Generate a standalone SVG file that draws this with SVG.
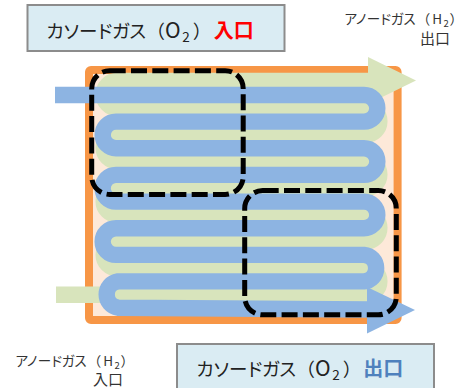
<svg xmlns="http://www.w3.org/2000/svg" width="468" height="388" viewBox="0 0 468 388">
<style>
text{font-family:"Noto Sans CJK JP","Noto Sans",sans-serif;fill:#222}
.box{fill:#DAECF3;stroke:#8C8C8C;stroke-width:2}
.big{font-size:18.5px}
.kana{letter-spacing:-2px}
.bold{font-size:20px;font-weight:700}
.cap{font-size:21px}
.sub{font-size:13.5px}
.small{font-size:13.5px;fill:#333}
.kana2{letter-spacing:-1.5px}
.small2{font-size:15px;fill:#333}
.sub2{font-size:9.5px}
.flow{fill:none;stroke-width:16.4}
.dash{fill:none;stroke:#000;stroke-width:5;stroke-dasharray:16 5.3}
</style>
<rect id="cell" x="89" y="70" width="308.6" height="250" rx="2" fill="#FDE9D9" stroke="#F79646" stroke-width="8" stroke-linejoin="round"/>
<g id="connectors">
<g id="anode-flow">
<path class="flow" stroke="#D8E4BC" d="M56 294.7H366A13.3 13.3 0 0 0 366 268H117A13.3 13.3 0 0 1 117 241.3H366A13.3 13.3 0 0 0 366 214.6H117A13.3 13.3 0 0 1 117 187.9H366A13.3 13.3 0 0 0 366 161.2H117A13.3 13.3 0 0 1 117 134.5H366A13.3 13.3 0 0 0 366 107.8H117A13.3 13.3 0 0 1 117 81H370"/>
<polygon points="368,57 416,80.5 368,104" fill="#D8E4BC"/>
</g>
<g id="cathode-flow">
<path class="flow" stroke="#8DB4E2" d="M55 95H364A13.3 13.3 0 0 1 364 121.6H116A13.3 13.3 0 0 0 116 148.2H364A13.3 13.3 0 0 1 364 174.9H116A13.3 13.3 0 0 0 116 201.6H364A13.3 13.3 0 0 1 364 228.2H116A13.3 13.3 0 0 0 116 254.9H364A13.3 13.3 0 0 1 364 281.4H118A13.3 13.3 0 0 0 118 307.7L370 309.5"/>
<polygon points="367,287 415,310 367,333.5" fill="#8DB4E2"/>
</g>
</g>
<g id="zone-inlet"><rect class="dash" x="91.7" y="70.7" width="151.5" height="123.7" rx="18"/></g>
<g id="zone-outlet"><rect class="dash" x="244.7" y="190.5" width="151.6" height="124.3" rx="18"/></g>
<g id="cathode-inlet">
<rect class="box" x="27.5" y="5" width="257" height="46"/>
<text class="big" x="46" y="37.5"><tspan class="kana">カソードガス</tspan><tspan dx="1.5">（</tspan><tspan class="cap" dx="0">O</tspan><tspan class="sub" dx="1.5" dy="4">2</tspan><tspan dx="3" dy="-4">）</tspan><tspan class="bold" dx="2.5" style="fill:#FF0000">入口</tspan></text>
</g>
<g id="cathode-outlet">
<rect class="box" x="177" y="344" width="257" height="46"/>
<text class="big" x="196" y="375.5"><tspan class="kana">カソードガス</tspan><tspan dx="1.5">（</tspan><tspan class="cap" dx="0">O</tspan><tspan class="sub" dx="1.5" dy="4">2</tspan><tspan dx="3" dy="-4">）</tspan><tspan class="bold" dx="2" style="fill:#4F81BD">出口</tspan></text>
</g>
<g id="anode-outlet">
<text class="small" x="344" y="24"><tspan class="kana2">アノードガス</tspan><tspan dx="2">（</tspan><tspan dx="2">H</tspan><tspan class="sub2" dx="1.4" dy="2.5">2</tspan><tspan dx="0.7" dy="-2.5">）</tspan></text>
<text class="small2" x="420" y="43.5">出口</text>
</g>
<g id="anode-inlet">
<text class="small" x="15" y="366"><tspan class="kana2">アノードガス</tspan><tspan dx="2">（</tspan><tspan dx="2">H</tspan><tspan class="sub2" dx="1.4" dy="2.5">2</tspan><tspan dx="0.7" dy="-2.5">）</tspan></text>
<text class="small2" x="93" y="385">入口</text>
</g>
</svg>
